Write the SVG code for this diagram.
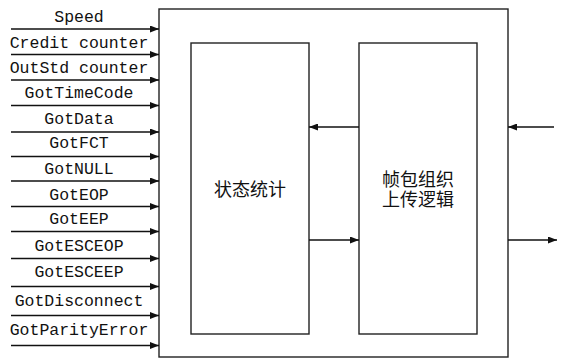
<svg xmlns="http://www.w3.org/2000/svg" width="568" height="360" viewBox="0 0 568 360">
<defs>
<marker id="ah" markerWidth="9" markerHeight="7" refX="9" refY="3.5" orient="auto" markerUnits="userSpaceOnUse">
<path d="M0,0 L9,3.5 L0,7 Z" fill="#111"/>
</marker>
<style>
.box{fill:#fff;stroke:#222;stroke-width:1.4}
.ln{stroke:#111;stroke-width:1.3;fill:none;marker-end:url(#ah)}
.lbl{font-family:"Liberation Mono","DejaVu Sans Mono",monospace;font-size:16.5px;fill:#111;text-anchor:middle}
.cn{font-family:"Noto Sans CJK SC","Noto Sans",sans-serif;font-size:18px;fill:#111;text-anchor:middle}
</style>
</defs>
<rect width="568" height="360" fill="#fff"/>
<g id="outer"><rect class="box" x="159" y="9" width="349" height="348"/></g>
<g id="stat"><rect class="box" x="191" y="43" width="118" height="291"/>
<text class="cn" x="250" y="196">状态统计</text></g>
<g id="frame"><rect class="box" x="359" y="43" width="118" height="291"/>
<text class="cn" x="418" y="196"><tspan x="418" y="185.5">帧包组织</tspan><tspan x="418" y="206">上传逻辑</tspan></text></g>
<g id="labels">
<text class="lbl" x="79" y="22">Speed</text>
<text class="lbl" x="79" y="48">Credit counter</text>
<text class="lbl" x="79" y="73">OutStd counter</text>
<text class="lbl" x="79" y="98">GotTimeCode</text>
<text class="lbl" x="79" y="124">GotData</text>
<text class="lbl" x="79" y="148">GotFCT</text>
<text class="lbl" x="79" y="174">GotNULL</text>
<text class="lbl" x="79" y="200">GotEOP</text>
<text class="lbl" x="79" y="224">GotEEP</text>
<text class="lbl" x="79" y="251">GotESCEOP</text>
<text class="lbl" x="79" y="277">GotESCEEP</text>
<text class="lbl" x="79" y="306">GotDisconnect</text>
<text class="lbl" x="79" y="335">GotParityError</text>
</g>
<g id="connectors">
<line class="ln" x1="11" y1="29" x2="159" y2="29"/>
<line class="ln" x1="11" y1="54.5" x2="159" y2="54.5"/>
<line class="ln" x1="11" y1="80" x2="159" y2="80"/>
<line class="ln" x1="11" y1="105.5" x2="159" y2="105.5"/>
<line class="ln" x1="11" y1="132" x2="159" y2="132"/>
<line class="ln" x1="11" y1="156.5" x2="159" y2="156.5"/>
<line class="ln" x1="11" y1="181" x2="159" y2="181"/>
<line class="ln" x1="11" y1="206.5" x2="159" y2="206.5"/>
<line class="ln" x1="11" y1="231.5" x2="159" y2="231.5"/>
<line class="ln" x1="11" y1="258.5" x2="159" y2="258.5"/>
<line class="ln" x1="11" y1="286.5" x2="159" y2="286.5"/>
<line class="ln" x1="11" y1="315.5" x2="159" y2="315.5"/>
<line class="ln" x1="11" y1="345.5" x2="159" y2="345.5"/>
<line class="ln" x1="359" y1="127" x2="309" y2="127"/>
<line class="ln" x1="309" y1="240" x2="359" y2="240"/>
<line class="ln" x1="554" y1="127" x2="508" y2="127"/>
<line class="ln" x1="508" y1="240" x2="557" y2="240"/>
</g>
</svg>
